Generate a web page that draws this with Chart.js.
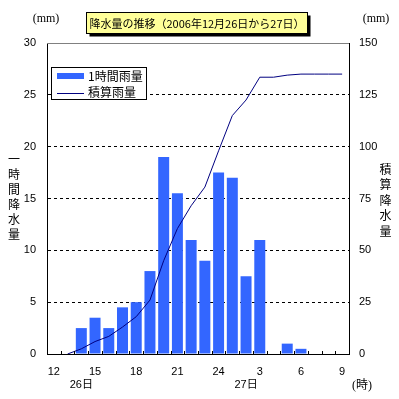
<!DOCTYPE html>
<html>
<head>
<meta charset="utf-8">
<script src="https://cdn.jsdelivr.net/npm/chart.js@4/dist/chart.umd.min.js"></script>
<style>
html,body{margin:0;padding:0;background:#fff;}
#wrap{width:399px;height:399px;}
</style>
</head>
<body>
<div id="wrap"><canvas id="c" width="399" height="399"></canvas></div>
<script>
// ---- data ----
const hours = ['12','13','14','15','16','17','18','19','20','21','22','23','24','1','2','3','4','5','6','7','8','9'];
const dayLabels = {2: '26日', 14: '27日'};
const hourlyRain = [null, null, 2.5, 3.5, 2.5, 4.5, 5, 8, 19, 15.5, 11, 9, 17.5, 17, 7.5, 11, null, 1, 0.5, null, null, null];
const cumulativeRain = [null, 0, 2.5, 6, 8.5, 13, 18, 26, 45, 60.5, 71.5, 80.5, 98, 115, 122.5, 133.5, 133.5, 134.5, 135, 135, 135, 135];
const leftTicks = [0, 5, 10, 15, 20, 25, 30];
const rightTicks = [0, 25, 50, 75, 100, 125, 150];
const titleText = '降水量の推移（2006年12月26日から27日）';
const seriesNames = ['1時間雨量', '積算雨量'];
const leftTitle = '一時間降水量';
const rightTitle = '積算降水量';
const unitText = '(mm)';
const xUnitText = '(時)';

const NUM = "'Liberation Sans', 'Noto Sans CJK JP', sans-serif";
const JP = "'Noto Sans CJK JP', sans-serif";
const SERIF = "'Liberation Serif', 'Noto Sans CJK JP', serif";

const decor = {
  id: 'decor',
  afterDraw(chart) {
    const ctx = chart.ctx;
    const ca = chart.chartArea;
    const x = chart.scales.x;
    ctx.save();
    // top border (gray)
    ctx.strokeStyle = '#808080';
    ctx.lineWidth = 1;
    ctx.beginPath();
    ctx.moveTo(ca.left, Math.round(ca.top) + 0.5);
    ctx.lineTo(ca.right, Math.round(ca.top) + 0.5);
    ctx.stroke();
    // inside tick marks on x axis (between categories)
    ctx.strokeStyle = '#000';
    ctx.beginPath();
    for (let i = 1; i < hours.length; i++) {
      const px = Math.round(x.getPixelForValue(i - 0.5)) + 0.5;
      ctx.moveTo(px, ca.bottom);
      ctx.lineTo(px, ca.bottom - 3);
    }
    ctx.stroke();

    // title box
    ctx.font = '11px ' + JP;
    const tw = ctx.measureText(titleText).width;
    const cx = 196.5;
    const bx = Math.round(cx - tw / 2 - 3) + 0.5, by = 12.5, bw = Math.round(tw + 6), bh = 21;
    ctx.fillStyle = '#000';
    ctx.fillRect(bx + 3, by + 3, bw, bh);
    ctx.fillStyle = '#FFFF99';
    ctx.fillRect(bx, by, bw, bh);
    ctx.strokeStyle = '#000';
    ctx.strokeRect(bx, by, bw, bh);
    ctx.fillStyle = '#000';
    ctx.textAlign = 'center';
    ctx.textBaseline = 'middle';
    ctx.fillText(titleText, bx + bw / 2, by + bh / 2 + 0.5);

    // units
    ctx.font = '12px ' + SERIF;
    ctx.fillText(unitText, 46, 19);
    ctx.fillText(unitText, 376, 19);
    ctx.fillText(xUnitText, 362, 386);

    // vertical axis titles
    ctx.font = '12px ' + JP;
    [...leftTitle].forEach((ch, i) => ctx.fillText(ch, 14, 159 + i * 15));
    [...rightTitle].forEach((ch, i) => ctx.fillText(ch, 385.5, 169 + i * 15.5));

    // legend
    const lx = 51.5, ly = 67.5, lw = 95, lh = 32;
    ctx.fillStyle = '#fff';
    ctx.fillRect(lx, ly, lw, lh);
    ctx.strokeStyle = '#000';
    ctx.strokeRect(lx, ly, lw, lh);
    const ds = chart.data.datasets;
    ctx.fillStyle = ds[0].backgroundColor;
    ctx.fillRect(57, 73, 27, 6);
    ctx.strokeStyle = ds[1].borderColor;
    ctx.beginPath();
    ctx.moveTo(57, 93.5);
    ctx.lineTo(84, 93.5);
    ctx.stroke();
    ctx.fillStyle = '#000';
    ctx.textAlign = 'left';
    ctx.font = '12px ' + JP;
    ctx.fillText(ds[0].label, 88, 76.5);
    ctx.fillText(ds[1].label, 88, 92.5);
    ctx.restore();
  }
};

new Chart(document.getElementById('c'), {
  data: {
    labels: hours,
    datasets: [
      {
        type: 'bar',
        label: seriesNames[0],
        data: hourlyRain,
        backgroundColor: '#3366FF',
        borderWidth: 0,
        barPercentage: 0.8,
        categoryPercentage: 1,
        yAxisID: 'y',
        order: 2
      },
      {
        type: 'line',
        label: seriesNames[1],
        data: cumulativeRain,
        borderColor: '#000080',
        borderWidth: 1,
        pointRadius: 0,
        tension: 0,
        fill: false,
        yAxisID: 'y2',
        order: 1
      }
    ]
  },
  options: {
    responsive: false,
    animation: false,
    layout: { padding: { top: 43, left: 0, right: 0, bottom: 0 } },
    plugins: { legend: { display: false }, title: { display: false }, tooltip: { enabled: false } },
    scales: {
      x: {
        type: 'category',
        offset: true,
        grid: { display: false, drawTicks: false },
        border: { display: true, color: '#000', width: 1 },
        afterFit: s => { s.height = 45; },
        ticks: {
          autoSkip: false,
          maxRotation: 0,
          padding: 11,
          color: '#000',
          font: { family: NUM, size: 11 },
          callback: (v, i) => [i % 3 === 0 ? hours[i] : '', dayLabels[i] || '']
        }
      },
      y: {
        position: 'left',
        min: leftTicks[0],
        max: leftTicks[leftTicks.length - 1],
        afterBuildTicks: s => { s.ticks = leftTicks.map(v => ({ value: v })); },
        afterFit: s => { s.width = 47; },
        grid: {
          drawTicks: false,
          color: c => (c.tick && (c.tick.value === 30 || c.tick.value === 0)) ? 'rgba(0,0,0,0)' : '#000',
          lineWidth: 1
        },
        border: { display: true, color: '#000', width: 1, dash: [3, 3] },
        ticks: { padding: 11, color: '#000', font: { family: NUM, size: 11 } }
      },
      y2: {
        position: 'right',
        min: rightTicks[0],
        max: rightTicks[rightTicks.length - 1],
        afterBuildTicks: s => { s.ticks = rightTicks.map(v => ({ value: v })); },
        afterFit: s => { s.width = 50; },
        grid: { drawOnChartArea: false, drawTicks: false },
        border: { display: true, color: '#000', width: 1 },
        ticks: { padding: 10, color: '#000', font: { family: NUM, size: 11 } }
      }
    }
  },
  plugins: [decor]
});
</script>
</body>
</html>
